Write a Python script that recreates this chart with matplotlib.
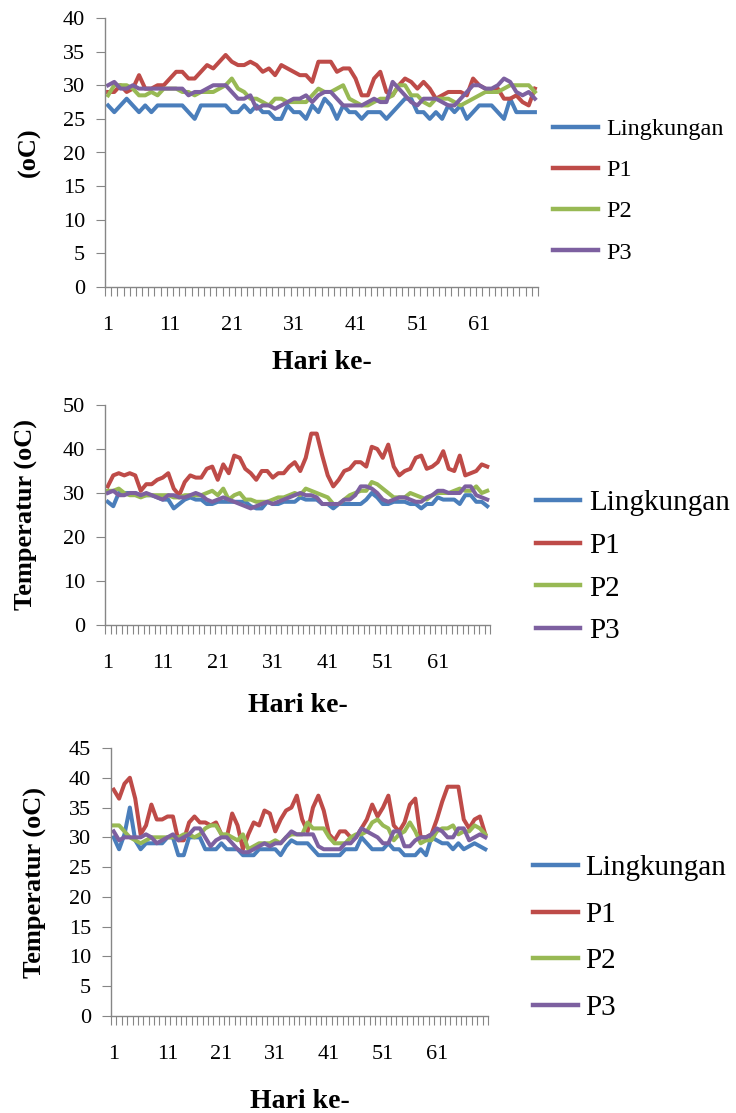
import matplotlib

matplotlib.use("Agg")
import matplotlib.pyplot as plt
from matplotlib.lines import Line2D

plt.rcParams["font.family"] = ["Liberation Serif", "DejaVu Serif"]

# hari ke-1 .. ke-70
days = list(range(1, 71))
series_names = ["Lingkungan", "P1", "P2", "P3"]
series_colors = ["#4a7ebb", "#be4b48", "#98b954", "#7d60a0"]
xtick_labels = ["1", "11", "21", "31", "41", "51", "61"]

# panel 1
p1_lingkungan = [
    27, 26, 27, 28, 27, 26, 27, 26, 27, 27,
    27, 27, 27, 26, 25, 27, 27, 27, 27, 27,
    26, 26, 27, 26, 27, 26, 26, 25, 25, 27,
    26, 26, 25, 27, 26, 28, 27, 25, 27, 26,
    26, 25, 26, 26, 26, 25, 26, 27, 28, 28,
    26, 26, 25, 26, 25, 27, 26, 27, 25, 26,
    27, 27, 27, 26, 25, 28, 26, 26, 26, 26,
]
p1_p1 = [
    29, 29, 30, 29, 29.5, 31.5, 29.5, 29.5, 30, 30,
    31, 32, 32, 31, 31, 32, 33, 32.5, 33.5, 34.5,
    33.5, 33, 33, 33.5, 33, 32, 32.5, 31.5, 33, 32.5,
    32, 31.5, 31.5, 30.5, 33.5, 33.5, 33.5, 32, 32.5, 32.5,
    31, 28.5, 28.5, 31, 32, 29, 28.5, 30, 31, 30.5,
    29.5, 30.5, 29.5, 28, 28.5, 29, 29, 29, 28.5, 31,
    30, 29.5, 29, 29.5, 28, 28, 28.5, 27.5, 27, 29.5,
]
p1_p2 = [
    28.5, 30, 30, 30, 29.5, 28.5, 28.5, 29, 28.5, 29.5,
    29.5, 29.5, 29, 29, 28.5, 29, 29, 29, 29.5, 30,
    31, 29.5, 29, 28, 28, 27.5, 27, 28, 28, 27.5,
    27.5, 27.5, 27.5, 28.5, 29.5, 29, 29, 29.5, 30, 28,
    27.5, 27, 27, 27.5, 28, 28, 28.5, 30, 30, 28.5,
    28.5, 27.5, 27, 28, 28, 28, 27.5, 27, 27.5, 28,
    28.5, 29, 29, 29, 29.5, 30, 30, 30, 30, 29,
]
p1_p3 = [
    30, 30.5, 29.5, 29.5, 30, 29.5, 29.5, 29.5, 29.5, 29.5,
    29.5, 29.5, 29.5, 28.5, 29, 29, 29.5, 30, 30, 30,
    29, 28, 28, 28.5, 26.5, 27, 27, 26.5, 27, 27.5,
    28, 28, 28.5, 27.5, 28.5, 29, 29, 28, 27, 27,
    27, 27, 27.5, 28, 27.5, 27.5, 30.5, 29.5, 28.5, 27.5,
    27, 28, 28, 28, 27.5, 27, 27, 28, 29, 30,
    30, 29.5, 29.5, 30, 31, 30.5, 29, 28.5, 29, 28,
]

# panel 2
p2_lingkungan = [
    28, 27, 30, 30, 30, 30, 29.5, 29.5, 29.5, 29,
    28.5, 28.5, 26.5, 27.5, 28.5, 29, 28.5, 28.5, 27.5, 27.5,
    28, 28, 28, 28, 28, 28, 27, 26.5, 26.5, 28,
    27.5, 27.5, 28, 28, 28, 29, 28.5, 28.5, 28.5, 27.5,
    27.5, 26.5, 27.5, 27.5, 27.5, 27.5, 27.5, 28.5, 30, 29,
    27.5, 27.5, 28, 28, 28, 27.5, 27.5, 26.5, 27.5, 27.5,
    29, 28.5, 28.5, 28.5, 27.5, 29.5, 29.5, 28, 28, 27,
]
p2_p1 = [
    31.5, 34, 34.5, 34, 34.5, 34, 30.5, 32, 32, 33,
    33.5, 34.5, 31, 29.5, 32.5, 34, 33.5, 33.5, 35.5, 36,
    33, 36.5, 34.5, 38.5, 38, 35.5, 34.5, 33, 35, 35,
    33.5, 34.5, 34.5, 36, 37, 35, 38, 43.5, 43.5, 38.5,
    34, 31.5, 33, 35, 35.5, 37, 37, 36, 40.5, 40,
    38, 41, 36, 34, 35, 35.5, 38, 38.5, 35.5, 36,
    37, 39.5, 35.5, 35, 38.5, 34, 34.5, 35, 36.5, 36,
]
p2_p2 = [
    30.5, 30.5, 31, 30, 29.5, 29.5, 29, 29.5, 29.5, 29.5,
    29.5, 29.5, 29, 29, 29.5, 29.5, 29.5, 29.5, 30, 30.5,
    29.5, 31, 28.5, 29.5, 30, 28.5, 28.5, 28, 28, 28,
    28.5, 29, 29, 29.5, 30, 29.5, 31, 30.5, 30, 29.5,
    29, 27.5, 27.5, 28.5, 29.5, 30, 30.5, 30.5, 32.5, 32,
    31, 30, 29, 29, 29, 30, 29.5, 29, 28.5, 29.5,
    30, 30, 30, 30.5, 31, 30.5, 30.5, 31.5, 30, 30.5,
]
p2_p3 = [
    30, 30.5, 29.5, 29.5, 30, 30, 29.5, 30, 29.5, 29,
    28.5, 29.5, 29.5, 29, 29, 29.5, 30, 29.5, 28.5, 28,
    28.5, 29, 28.5, 28, 27.5, 27, 26.5, 27, 27.5, 28,
    27.5, 28, 28.5, 29, 29.5, 30, 29.5, 29.5, 29, 27.5,
    27.5, 27.5, 27.5, 28.5, 28.5, 29.5, 31.5, 31.5, 31, 30,
    28.5, 28, 28.5, 29, 29, 28.5, 28, 28, 29, 29.5,
    30.5, 30.5, 30, 30, 30, 31.5, 31.5, 29.5, 29, 28.5,
]

# panel 3
p3_lingkungan = [
    30, 28, 30.5, 35, 29.5, 28, 29, 29, 29, 29,
    30, 30, 27, 27, 30, 30, 30, 28, 28, 28,
    29, 28, 28, 28, 27, 27, 27, 28, 28, 28,
    28, 27, 28.5, 29.5, 29, 29, 29, 28, 27, 27,
    27, 27, 27, 28, 28, 28, 30, 29, 28, 28,
    28, 29, 28, 28, 27, 27, 27, 28, 27, 30,
    29.5, 29, 29, 28, 29, 28, 28.5, 29, 28.5, 28,
]
p3_p1 = [
    38, 36.5, 39, 40, 36.5, 30.5, 32, 35.5, 33, 33,
    33.5, 33.5, 29.5, 29.5, 32.5, 33.5, 32.5, 32.5, 32, 32.5,
    30.5, 30, 34, 32, 28, 30.5, 32.5, 32, 34.5, 34,
    31, 33, 34.5, 35, 37, 33, 31, 35, 37, 34.5,
    30.5, 29.5, 31, 31, 30, 30, 31.5, 33, 35.5, 33.5,
    35, 37, 32, 31, 32.5, 35.5, 36.5, 30, 30, 30.5,
    33, 36, 38.5, 38.5, 38.5, 33, 31.5, 33, 33.5, 30.5,
]
p3_p2 = [
    32, 32, 31, 30, 29.5, 29, 29.5, 30, 30, 30,
    30, 30, 30, 30.5, 30.5, 30, 30.5, 31.5, 32, 32,
    30.5, 30.5, 30, 29.5, 30.5, 28, 28.5, 29, 29, 29,
    29.5, 29, 30, 30.5, 30.5, 30.5, 32.5, 31.5, 31.5, 31.5,
    30, 29, 29, 29, 30, 30.5, 30.5, 31, 32.5, 33,
    32, 31.5, 29.5, 30.5, 31, 32.5, 31, 29, 29.5, 29.5,
    31, 31.5, 31.5, 32, 30.5, 31, 31, 32, 31.5, 30.5,
]
p3_p3 = [
    31, 29.5, 30, 30, 30, 30, 30.5, 30, 29, 29.5,
    30, 30.5, 29.5, 30, 30.5, 31.5, 31.5, 30, 28.5, 29.5,
    30, 30, 29, 28, 27.5, 27.5, 28, 28.5, 29, 28.5,
    29, 29, 30, 31, 30.5, 30.5, 30.5, 30.5, 28.5, 28,
    28, 28, 28, 29, 29, 30, 31.5, 31, 30.5, 30,
    29, 29, 31, 31, 28.5, 28.5, 29.5, 30, 30, 30.5,
    31.5, 31, 30, 30, 31.5, 31.5, 29.5, 30, 30.5, 30,
]

AXIS_GREY = "#868686"
W, H = 736, 1113


def style_axis(ax, y_max, y_step):
    for side in ("top", "right"):
        ax.spines[side].set_visible(False)
    for side in ("left", "bottom"):
        ax.spines[side].set_color(AXIS_GREY)
        ax.spines[side].set_linewidth(1.0)
    ax.set_xlim(0.5, 70.5)
    ax.set_ylim(0, y_max)
    ax.set_yticks(range(0, y_max + 1, y_step))
    ax.tick_params(axis="y", direction="out", length=6.5, color=AXIS_GREY,
                   labelsize=16, pad=8)
    # tick marks between categories, labels on every 10th day
    ax.set_xticks([d + 0.5 for d in range(0, 71)])
    ax.set_xticklabels([])
    ax.tick_params(axis="x", which="major", direction="out", length=6.5,
                   color=AXIS_GREY)
    ax.set_xticks([int(t) for t in xtick_labels], minor=True)
    ax.set_xticklabels(xtick_labels, minor=True)
    ax.tick_params(axis="x", which="minor", length=0, labelsize=16, pad=21)


def draw_panel(fig, box, values, y_max, y_step, ylabel, ylabel_x, xlabel_pad, legend):
    left, top, right, bottom = box
    ax = fig.add_axes([left / W, 1 - bottom / H, (right - left) / W, (bottom - top) / H])
    for name, color, vals in zip(series_names, series_colors, values):
        ax.plot(days, vals, color=color, linewidth=2.9, label=name,
                solid_joinstyle="round")
    style_axis(ax, y_max, y_step)
    ax.set_xlabel("Hari ke-", fontsize=20, fontweight="bold", labelpad=xlabel_pad)
    ax.set_ylabel(ylabel, fontsize=19, fontweight="bold")
    ax.yaxis.set_label_coords((ylabel_x - left) / (right - left), 0.5)

    lx, ly, size, hlen, tpad, gap = legend
    handles = [Line2D([], [], color=c, linewidth=3.2) for c in series_colors]
    ax.legend(handles, series_names, loc="upper left", bbox_to_anchor=(lx / W, 1 - ly / H),
              bbox_transform=fig.transFigure, frameon=False, fontsize=size,
              handlelength=hlen, handletextpad=tpad, labelspacing=gap,
              borderpad=0, borderaxespad=0)
    return ax


fig = plt.figure(figsize=(W / 100, H / 100), dpi=100)
fig.patch.set_facecolor("white")

draw_panel(fig, (105, 18, 538, 287),
           [p1_lingkungan, p1_p1, p1_p2, p1_p3], 40, 5, "(oC)", 41, 11,
           (553, 118, 17.5, 1.85, 0.33, 0.79))
draw_panel(fig, (105, 405, 490, 625),
           [p2_lingkungan, p2_p1, p2_p2, p2_p3], 50, 10, "Temperatur (oC)", 38, 14,
           (536, 490, 21, 1.5, 0.34, 0.555))
draw_panel(fig, (111, 748, 488, 1016),
           [p3_lingkungan, p3_p1, p3_p2, p3_p3], 45, 5, "Temperatur (oC)", 47, 18,
           (533, 855, 21, 1.54, 0.26, 0.69))

fig.savefig("out.png", dpi=100)
plt.close(fig)
